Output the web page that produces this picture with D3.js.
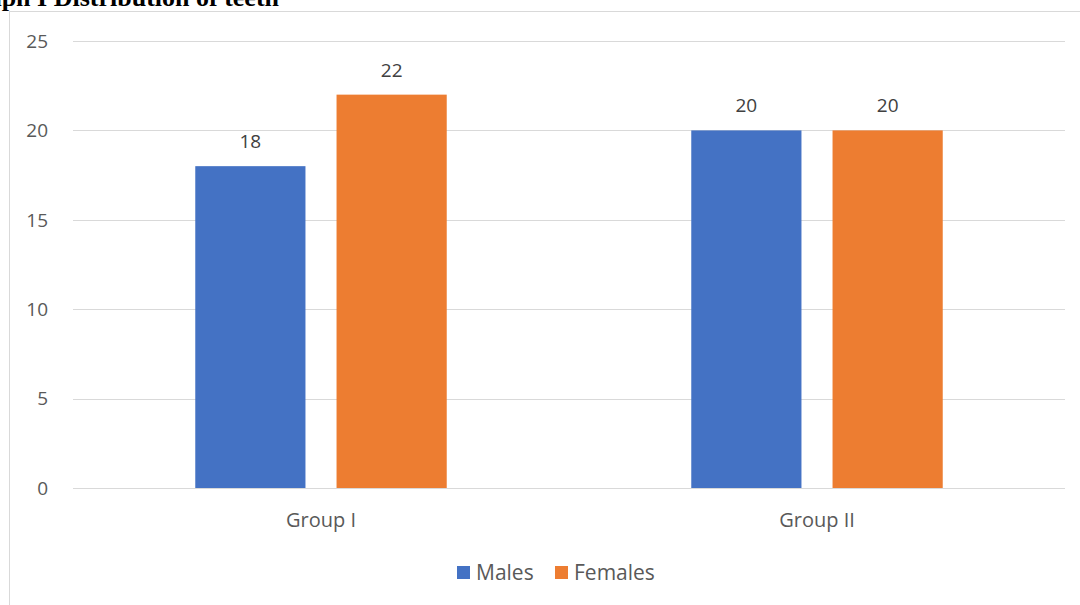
<!DOCTYPE html>
<html>
<head>
<meta charset="utf-8">
<script src="https://cdn.jsdelivr.net/npm/d3@7"></script>
<style>
  body { margin: 0; background: #fff; }
  svg { display: block; }
</style>
</head>
<body>
<div id="chart"></div>
<script>
/* DATA */
const groups = ["Group I", "Group II"];
const seriesNames = ["Males", "Females"];
const males = [18, 20];
const females = [22, 20];
const yTicks = [0, 5, 10, 15, 20, 25];
const colors = ["#4472c4", "#ed7d31"];

const width = 1080, height = 605;
const margin = { top: 41, bottom: 117, left: 73, right: 15 };
const font = "Open Sans, sans-serif";

const svg = d3.select("#chart").append("svg")
  .attr("width", width)
  .attr("height", height);

// chart area border (runs off the right and bottom edges)
svg.append("rect")
  .attr("x", 9.5).attr("y", 11.5)
  .attr("width", 1100).attr("height", 700)
  .attr("fill", "none")
  .attr("stroke", "#d9d9d9");

// title, clipped at the top like the source image
svg.append("text")
  .attr("x", 279).attr("y", 6)
  .attr("text-anchor", "end")
  .attr("font-family", "Liberation Serif, serif")
  .attr("font-weight", "bold")
  .attr("font-size", 26)
  .attr("fill", "#000")
  .text("Graph I Distribution of teeth");

const yScale = d3.scaleLinear()
  .domain([0, 25])
  .range([height - margin.bottom, margin.top]);

const xScale = d3.scaleBand()
  .domain(groups)
  .range([margin.left, width - margin.right]);

// bars take about half of each category band
const bw = xScale.bandwidth();
const xInner = d3.scaleBand()
  .domain(seriesNames)
  .range([bw * 0.2465, bw * 0.7535])
  .paddingInner(0.22);

// gridlines
svg.append("g")
  .selectAll("line")
  .data(yTicks)
  .join("line")
  .attr("x1", margin.left)
  .attr("x2", width - margin.right)
  .attr("y1", d => Math.round(yScale(d)) + 0.5)
  .attr("y2", d => Math.round(yScale(d)) + 0.5)
  .attr("stroke", "#d9d9d9")
  .attr("stroke-width", 1);

// y tick labels
svg.append("g")
  .selectAll("text")
  .data(yTicks)
  .join("text")
  .attr("x", 48)
  .attr("y", d => yScale(d))
  .attr("dy", "0.36em")
  .attr("text-anchor", "end")
  .attr("font-family", font)
  .attr("font-size", 19)
  .attr("fill", "#595959")
  .text(d => d);

// bars
const rows = groups.map((g, i) => ({ group: g, values: [males[i], females[i]] }));

const barGroups = svg.append("g")
  .selectAll("g")
  .data(rows)
  .join("g")
  .attr("transform", d => `translate(${xScale(d.group)},0)`);

barGroups.selectAll("rect")
  .data(d => d.values.map((v, j) => ({ name: seriesNames[j], value: v, j })))
  .join("rect")
  .attr("x", d => xInner(d.name))
  .attr("width", xInner.bandwidth())
  .attr("y", d => yScale(d.value))
  .attr("height", d => yScale(0) - yScale(d.value))
  .attr("fill", d => colors[d.j]);

// value labels
barGroups.selectAll("text")
  .data(d => d.values.map((v, j) => ({ name: seriesNames[j], value: v })))
  .join("text")
  .attr("x", d => xInner(d.name) + xInner.bandwidth() / 2)
  .attr("y", d => yScale(d.value) - 18)
  .attr("text-anchor", "middle")
  .attr("font-family", font)
  .attr("font-size", 19)
  .attr("fill", "#404040")
  .text(d => d.value);

// category labels
svg.append("g")
  .selectAll("text")
  .data(groups)
  .join("text")
  .attr("x", d => xScale(d) + xScale.bandwidth() / 2)
  .attr("y", 527)
  .attr("text-anchor", "middle")
  .attr("font-family", font)
  .attr("font-size", 20)
  .attr("fill", "#595959")
  .text(d => d);

// legend
const legendX = [457, 555];
const legend = svg.append("g")
  .selectAll("g")
  .data(seriesNames)
  .join("g")
  .attr("transform", (d, i) => `translate(${legendX[i]},566)`);

legend.append("rect")
  .attr("width", 13).attr("height", 13)
  .attr("fill", (d, i) => colors[i]);

legend.append("text")
  .attr("x", 19).attr("y", 14)
  .attr("font-family", font)
  .attr("font-size", 21)
  .attr("fill", "#595959")
  .text(d => d);
</script>
</body>
</html>
